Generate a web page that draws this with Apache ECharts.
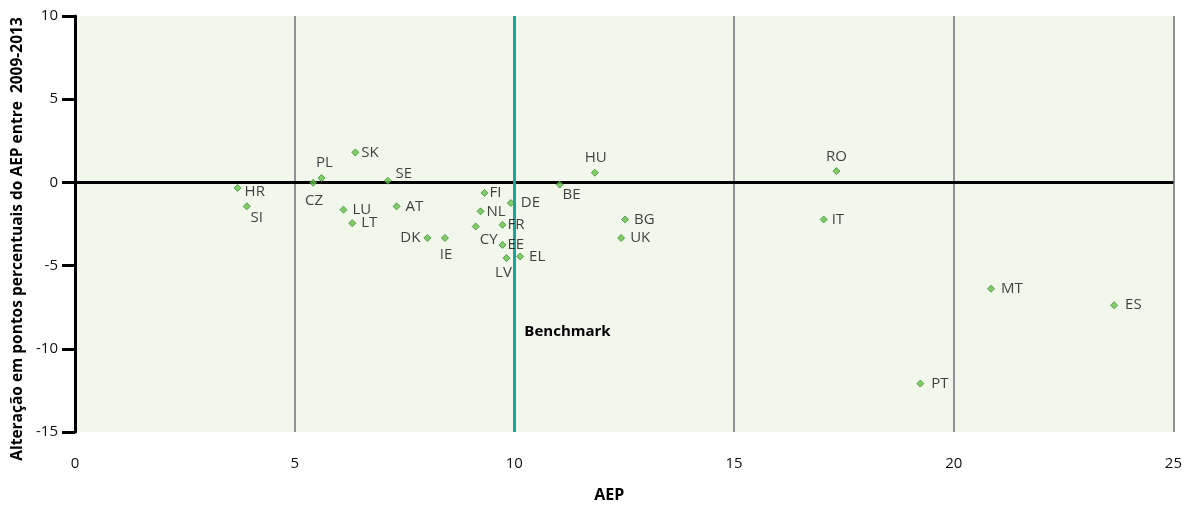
<!DOCTYPE html>
<html>
<head>
<meta charset="utf-8">
<script src="https://cdn.jsdelivr.net/npm/echarts@6/dist/echarts.min.js"></script>
<style>
html,body{margin:0;padding:0;background:#fff;overflow:hidden;}
#c{width:1185px;height:508px;}
</style>
</head>
<body>
<div id="c"></div>
<script>
// ---- data ----
const countries = ['HR','SI','CZ','PL','SK','SE','LU','LT','AT','DK','IE','FI','NL','CY','FR','DE','EE','LV','EL','BE','HU','BG','UK','RO','IT','MT','PT','ES'];
const aep = [3.70,3.91,5.42,5.61,6.38,7.12,6.11,6.31,7.32,8.02,8.42,9.32,9.23,9.12,9.73,9.92,9.73,9.82,10.13,11.03,11.83,12.52,12.43,17.33,17.04,20.85,19.24,23.65];
const change = [-0.33,-1.44,-0.02,0.26,1.80,0.10,-1.64,-2.45,-1.44,-3.34,-3.34,-0.63,-1.74,-2.65,-2.55,-1.24,-3.76,-4.55,-4.45,-0.13,0.58,-2.23,-3.34,0.68,-2.23,-6.39,-12.09,-7.38];
const xTicks = [0,5,10,15,20,25];
const yTicks = [-15,-10,-5,0,5,10];
const benchmark = 10;
const benchmarkLabelY = -9;
const benchmarkText = 'Benchmark';
const xTitle = 'AEP';
const yTitle = 'Alteração em pontos percentuais do AEP entre  2009-2013';

// ---- label placement (style, not data) ----
const labelPlace = {
  HR:['left',7,4], SI:['center',10,11], CZ:['center',1,18], PL:['center',3,-15],
  SK:['left',6,0], SE:['center',16,-7], LU:['left',9,0], LT:['left',9,0],
  AT:['left',9,0], DK:['right',-7,0], IE:['center',1,17], FI:['left',5,0],
  NL:['left',6,0], CY:['center',13,13], FR:['left',5,0], DE:['left',10,0],
  EE:['left',5,0], LV:['center',-3,15], EL:['left',9,0], BE:['center',12,10],
  HU:['center',1,-15], BG:['left',9,0], UK:['left',9,0], RO:['center',0,-14],
  IT:['left',8,0], MT:['left',10,0], PT:['left',11,0], ES:['left',11,0]
};

const FONT = '"Open Sans", "DejaVu Sans", sans-serif';

const points = countries.map((c,i)=>{
  const p = labelPlace[c];
  return {
    name: c,
    value: [aep[i], change[i]],
    label: {
      show: true, formatter: c, position: 'inside',
      align: p[0], verticalAlign: 'middle', offset: [p[1], p[2]],
      color: '#111', fontSize: 15, fontFamily: FONT
    }
  };
});

const chart = echarts.init(document.getElementById('c'), null, {renderer:'canvas'});
chart.setOption({
  animation: false,
  backgroundColor: '#ffffff',
  grid: {left: 75, right: 8, top: 16, bottom: 70, show: true, backgroundColor: '#f1f7eb', borderWidth: 0},
  xAxis: {
    type: 'value', min: xTicks[0], max: xTicks[xTicks.length-1], interval: 5,
    name: xTitle, nameLocation: 'middle', nameGap: 55,
    nameTextStyle: {fontFamily: FONT, fontWeight: 'bold', fontSize: 16, color: '#000', padding: [0,30,0,0]},
    axisLine: {show: false},
    axisTick: {show: false},
    axisLabel: {margin: 24, fontFamily: FONT, fontSize: 15, color: '#111'},
    splitLine: {show: true, lineStyle: {color: '#8e9198', width: 2}}
  },
  yAxis: {
    type: 'value', min: yTicks[0], max: yTicks[yTicks.length-1], interval: 5,
    name: yTitle, nameLocation: 'middle', nameGap: 48, nameRotate: 90,
    nameTextStyle: {fontFamily: FONT, fontWeight: 'bold', fontSize: 15.5, color: '#000', padding: [0,30,0,0]},
    axisLine: {show: true, onZero: false, lineStyle: {color: '#000', width: 3}},
    axisTick: {show: true, inside: false, length: 13, lineStyle: {color: '#000', width: 3}},
    axisLabel: {margin: 17, fontFamily: FONT, fontSize: 15, color: '#111'},
    splitLine: {show: false}
  },
  series: [
    {
      type: 'scatter', data: [], z: 1, silent: true,
      markLine: {
        silent: true, symbol: ['none','none'], animation: false,
        label: {show: false},
        data: [
          {yAxis: 0, lineStyle: {color: '#000', width: 3, type: 'solid'}},
          {xAxis: benchmark, lineStyle: {color: '#17a69f', width: 3, type: 'solid'}}
        ]
      },
      markPoint: {
        symbol: 'circle', symbolSize: 0, silent: true,
        data: [{coord: [benchmark, benchmarkLabelY], value: benchmarkText,
          label: {show: true, formatter: benchmarkText, position: 'inside', align: 'left', verticalAlign: 'middle', offset: [10,0],
            fontFamily: FONT, fontWeight: 'bold', fontSize: 15, color: '#000'}}]
      }
    },
    {
      type: 'scatter', z: 5,
      symbol: 'diamond', symbolSize: 7,
      itemStyle: {color: '#66c046', borderColor: '#3a9138', borderWidth: 1},
      data: points
    }
  ]
});
</script>
</body>
</html>
